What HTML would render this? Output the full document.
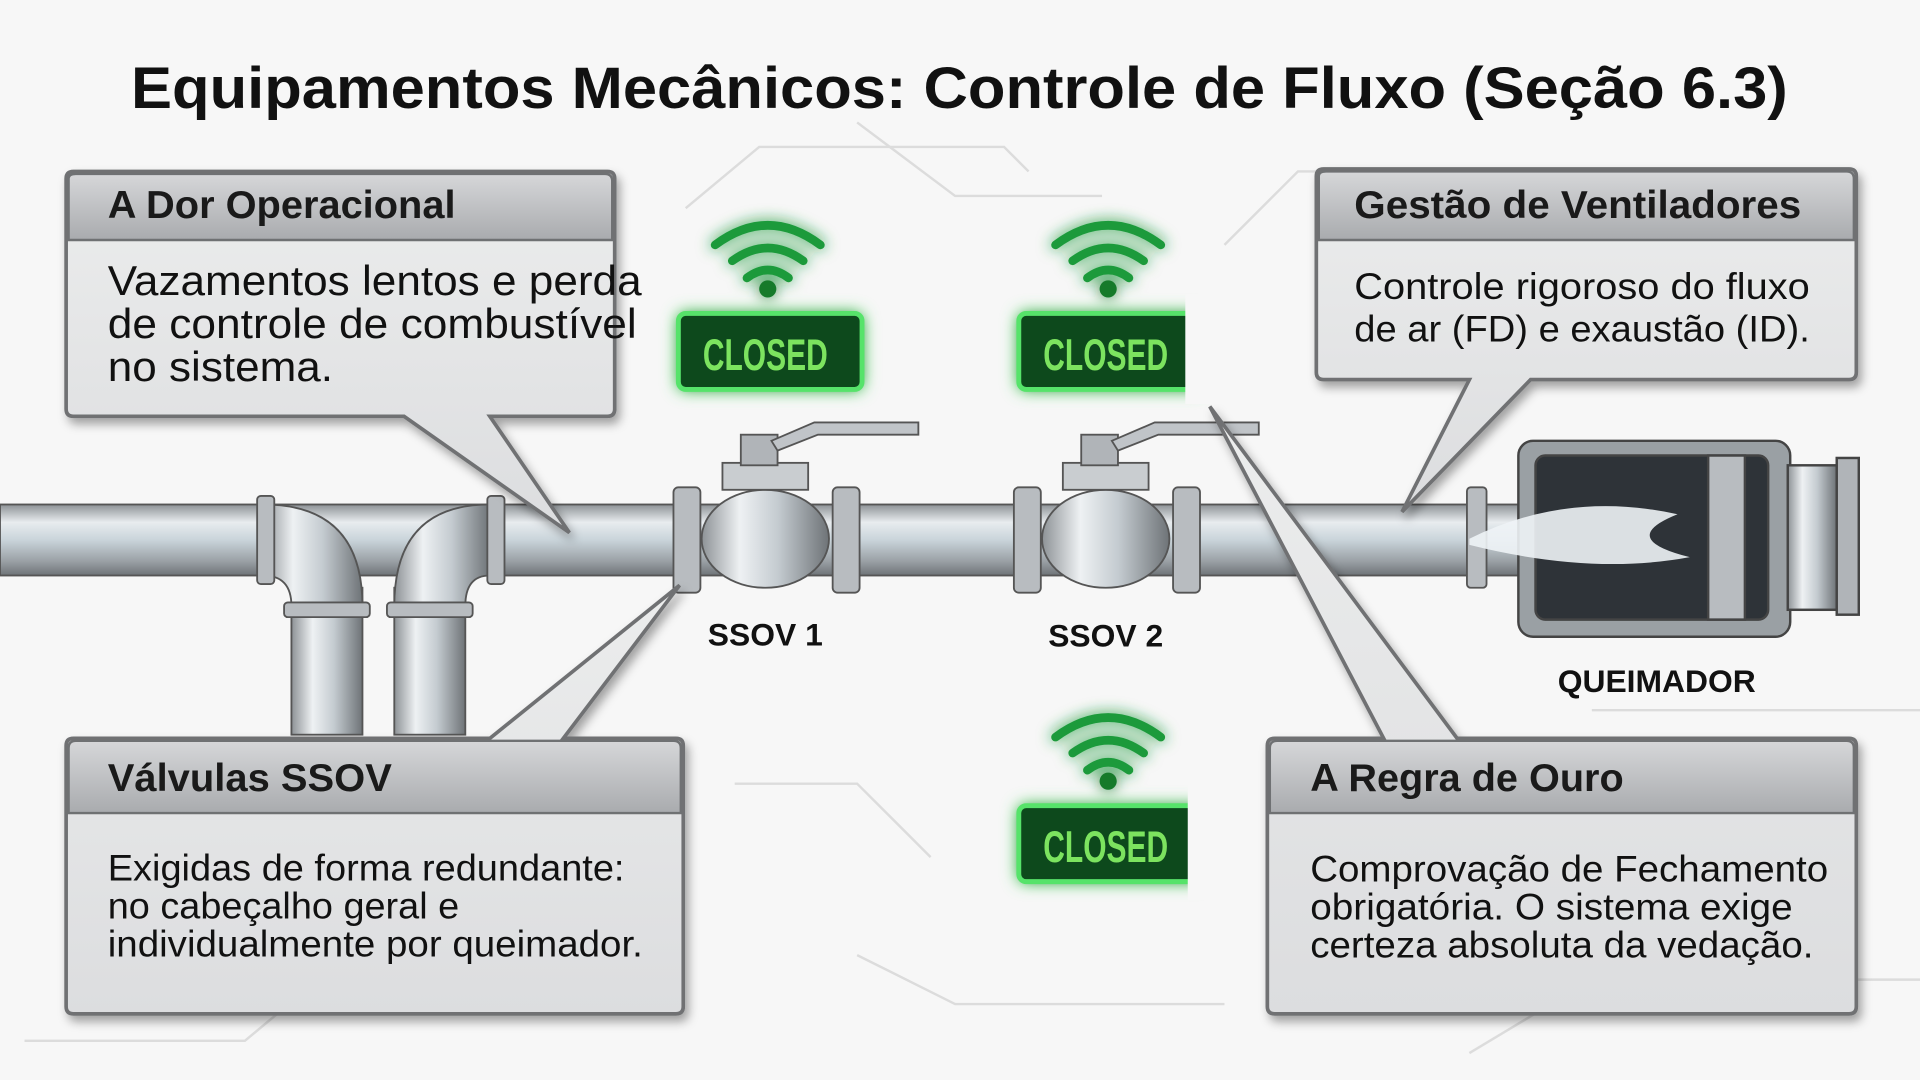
<!DOCTYPE html>
<html><head><meta charset="utf-8"><style>
html,body{margin:0;padding:0;background:#f7f7f7;}
svg{display:block;}
text{font-family:"Liberation Sans",sans-serif;}
</style></head><body>
<svg width="1920" height="1080" viewBox="0 0 1568 882" xmlns="http://www.w3.org/2000/svg">
<defs>
<linearGradient id="pipeH" x1="0" y1="0" x2="0" y2="1">
<stop offset="0" stop-color="#8d9296"/><stop offset="0.25" stop-color="#e8ecef"/><stop offset="0.5" stop-color="#c9d4da"/><stop offset="0.8" stop-color="#9aa0a5"/><stop offset="1" stop-color="#6e7377"/></linearGradient>
<linearGradient id="pipeV" x1="0" y1="0" x2="1" y2="0">
<stop offset="0" stop-color="#8d9296"/><stop offset="0.3" stop-color="#eef1f3"/><stop offset="0.6" stop-color="#c4cbd0"/><stop offset="1" stop-color="#6e7377"/></linearGradient>
<linearGradient id="hdr" x1="0" y1="0" x2="0" y2="1">
<stop offset="0" stop-color="#d6d7d9"/><stop offset="1" stop-color="#a9abae"/></linearGradient>
<linearGradient id="bodyg" x1="0" y1="0" x2="0" y2="1">
<stop offset="0" stop-color="#eceded"/><stop offset="1" stop-color="#dcdddf"/></linearGradient>
<filter id="sh" x="-10%" y="-10%" width="130%" height="130%"><feDropShadow dx="3" dy="5" stdDeviation="4" flood-color="#000" flood-opacity="0.35"/></filter>
<filter id="glow" x="-30%" y="-50%" width="160%" height="200%"><feGaussianBlur stdDeviation="6" result="b"/><feMerge><feMergeNode in="b"/><feMergeNode in="SourceGraphic"/></feMerge></filter>
</defs>
<rect width="1568" height="882" fill="#f7f7f7"/>
<g stroke="#dcdcdc" stroke-width="2" fill="none">
<path d="M560 170 L620 120 L820 120 L840 140"/><path d="M700 100 L780 160 L900 160"/>
<path d="M1000 200 L1060 140 L1200 140"/><path d="M600 640 L700 640 L760 700"/>
<path d="M1200 860 L1300 800 L1568 800"/><path d="M20 850 L200 850 L260 800"/>
<path d="M700 780 L780 820 L1000 820"/><path d="M1300 580 L1568 580"/>
</g>
<rect x="0" y="412" width="1240" height="58" fill="url(#pipeH)" stroke="#555" stroke-width="1.5"/>
<rect x="238" y="480" width="58" height="120" fill="url(#pipeV)" stroke="#555" stroke-width="1.5"/>
<rect x="322" y="480" width="58" height="120" fill="url(#pipeV)" stroke="#555" stroke-width="1.5"/>
<path d="M215 412 Q296 412 296 495 L238 495 Q238 470 215 470Z" fill="url(#pipeV)" stroke="#555" stroke-width="1.5"/>
<path d="M400 412 Q322 412 322 495 L380 495 Q380 470 400 470Z" fill="url(#pipeV)" stroke="#555" stroke-width="1.5"/>
<g fill="#b8bcc0" stroke="#555" stroke-width="1.5">
<rect x="210" y="405" width="14" height="72" rx="3"/><rect x="398" y="405" width="14" height="72" rx="3"/>
<rect x="232" y="492" width="70" height="12" rx="3"/><rect x="316" y="492" width="70" height="12" rx="3"/>
<rect x="550" y="398" width="22" height="86" rx="4"/><rect x="680" y="398" width="22" height="86" rx="4"/>
<rect x="828" y="398" width="22" height="86" rx="4"/><rect x="958" y="398" width="22" height="86" rx="4"/>
<rect x="1198" y="398" width="16" height="82" rx="3"/>
</g>
<g stroke="#555" stroke-width="1.5">
<ellipse cx="625" cy="440" rx="52" ry="40" fill="url(#pipeV)"/>
<rect x="590" y="378" width="70" height="22" fill="#c9cdd0"/>
<rect x="605" y="355" width="30" height="25" fill="#b0b4b8"/>
<path d="M630 360 L665 345 L750 345 L750 355 L668 355 L635 368Z" fill="#c0c4c8"/>
<ellipse cx="903" cy="440" rx="52" ry="40" fill="url(#pipeV)"/>
<rect x="868" y="378" width="70" height="22" fill="#c9cdd0"/>
<rect x="883" y="355" width="30" height="25" fill="#b0b4b8"/>
<path d="M908 360 L943 345 L1028 345 L1028 355 L946 355 L913 368Z" fill="#c0c4c8"/>
</g>
<g stroke="#444" stroke-width="2">
<rect x="1240" y="360" width="222" height="160" rx="12" fill="#9aa0a4"/>
<rect x="1254" y="372" width="190" height="134" rx="8" fill="#2e3338"/>
<rect x="1395" y="372" width="30" height="134" fill="#b8bcc0"/>
<rect x="1460" y="380" width="40" height="118" fill="url(#pipeV)"/>
<rect x="1500" y="374" width="18" height="128" fill="#b0b4b8"/>
</g>
<path d="M1200 440 Q1280 400 1370 420 Q1320 440 1380 455 Q1300 470 1200 445Z" fill="#eef3f6" opacity="0.9"/>
<g filter="url(#sh)">
<path d="M60 140 H496 Q502 140 502 146 V334 Q502 340 496 340 H400 L465 435 L330 340 H60 Q54 340 54 334 V146 Q54 140 60 140Z" fill="url(#bodyg)" stroke="#6f7173" stroke-width="3"/>
<path d="M1081 138 H1510 Q1516 138 1516 144 V304 Q1516 310 1510 310 H1250 L1145 418 L1200 310 H1081 Q1075 310 1075 304 V144 Q1075 138 1081 138Z" fill="url(#bodyg)" stroke="#6f7173" stroke-width="3"/>
<path d="M60 603 H400 L555 478 L460 603 H552 Q558 603 558 609 V822 Q558 828 552 828 H60 Q54 828 54 822 V609 Q54 603 60 603Z" fill="url(#bodyg)" stroke="#6f7173" stroke-width="3"/>
<path d="M1041 603 H1130 L988 332 L1190 603 H1510 Q1516 603 1516 609 V822 Q1516 828 1510 828 H1041 Q1035 828 1035 822 V609 Q1035 603 1041 603Z" fill="url(#bodyg)" stroke="#6f7173" stroke-width="3"/>
</g>
<g stroke="#6f7173" stroke-width="2">
<path d="M56 196 V146 Q56 142 62 142 H494 Q500 142 500 148 V196Z" fill="url(#hdr)"/>
<path d="M1077 196 V144 Q1077 140 1083 140 H1508 Q1514 140 1514 146 V196Z" fill="url(#hdr)"/>
<path d="M56 664 V611 Q56 605 62 605 H550 Q556 605 556 611 V664Z" fill="url(#hdr)"/>
<path d="M1037 664 V611 Q1037 605 1043 605 H1508 Q1514 605 1514 611 V664Z" fill="url(#hdr)"/>
</g>
<text x="107" y="88" font-size="48" font-weight="bold" fill="#111" textLength="1353" lengthAdjust="spacingAndGlyphs">Equipamentos Mecânicos: Controle de Fluxo (Seção 6.3)</text>
<g font-weight="bold" font-size="32" fill="#1a1a1a">
<text x="88" y="178" textLength="284" lengthAdjust="spacingAndGlyphs">A Dor Operacional</text>
<text x="1106" y="178" textLength="365" lengthAdjust="spacingAndGlyphs">Gestão de Ventiladores</text>
<text x="88" y="646" textLength="232" lengthAdjust="spacingAndGlyphs">Válvulas SSOV</text>
<text x="1070" y="646" textLength="256" lengthAdjust="spacingAndGlyphs">A Regra de Ouro</text>
</g>
<g font-size="34" fill="#111">
<text x="88" y="241" textLength="436" lengthAdjust="spacingAndGlyphs">Vazamentos lentos e perda</text>
<text x="88" y="276" textLength="432" lengthAdjust="spacingAndGlyphs">de controle de combustível</text>
<text x="88" y="311" textLength="184" lengthAdjust="spacingAndGlyphs">no sistema.</text>
</g>
<g font-size="30" fill="#111">
<text x="1106" y="244" textLength="372" lengthAdjust="spacingAndGlyphs">Controle rigoroso do fluxo</text>
<text x="1106" y="279" textLength="372" lengthAdjust="spacingAndGlyphs">de ar (FD) e exaustão (ID).</text>
</g>
<g font-size="30" fill="#111">
<text x="88" y="719" textLength="422" lengthAdjust="spacingAndGlyphs">Exigidas de forma redundante:</text>
<text x="88" y="750" textLength="287" lengthAdjust="spacingAndGlyphs">no cabeçalho geral e</text>
<text x="88" y="781" textLength="437" lengthAdjust="spacingAndGlyphs">individualmente por queimador.</text>
<text x="1070" y="720" textLength="423" lengthAdjust="spacingAndGlyphs">Comprovação de Fechamento</text>
<text x="1070" y="751" textLength="394" lengthAdjust="spacingAndGlyphs">obrigatória. O sistema exige</text>
<text x="1070" y="782" textLength="411" lengthAdjust="spacingAndGlyphs">certeza absoluta da vedação.</text>
</g>
<g font-weight="bold" font-size="26" fill="#111" text-anchor="middle">
<text x="625" y="527">SSOV 1</text><text x="903" y="528">SSOV 2</text><text x="1353" y="565">QUEIMADOR</text>
</g>
<g id="b1">
<g filter="url(#glow)">
<path d="M584 200 Q627 168 670 200" stroke="#1a9a3a" stroke-width="7" fill="none" stroke-linecap="round"/>
<path d="M598 213 Q627 192 656 213" stroke="#1a9a3a" stroke-width="7" fill="none" stroke-linecap="round"/>
<path d="M610 227 Q627 214 644 227" stroke="#1a9a3a" stroke-width="7" fill="none" stroke-linecap="round"/>
<circle cx="627" cy="236" r="7" fill="#137a2c"/>
<rect x="554" y="256" width="150" height="62" rx="6" fill="#0c4a1c" stroke="#57e36b" stroke-width="4"/>
</g>
<text x="574" y="302" font-family="DejaVu Sans Condensed,DejaVu Sans,sans-serif" font-weight="bold" font-size="36" fill="#7ce35f" textLength="102" lengthAdjust="spacingAndGlyphs">CLOSED</text>
</g>
<use href="#b1" x="278" y="0"/>
<use href="#b1" x="278" y="402"/>
<rect x="968" y="240" width="40" height="90" fill="#f7f7f7"/>
<rect x="970" y="640" width="40" height="95" fill="#f7f7f7"/>
</svg>
</body></html>
